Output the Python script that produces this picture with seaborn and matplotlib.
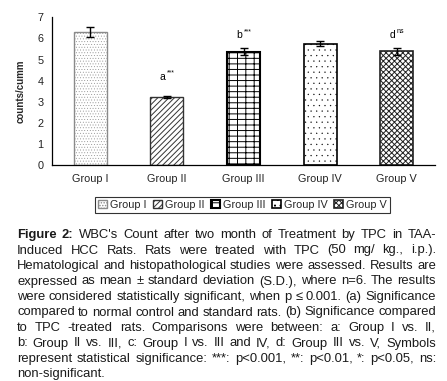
import matplotlib
matplotlib.use("Agg")
import matplotlib.pyplot as plt
import seaborn as sns
import pandas as pd
import numpy as np

groups = ["Group I", "Group II", "Group III", "Group IV", "Group V"]
means = [6.29, 3.22, 5.38, 5.74, 5.39]
sds = [0.24, 0.05, 0.17, 0.12, 0.17]
sig_letters = ["", "a", "b", "", "d"]
sig_marks = ["", "***", "***", "", "ns"]
y_ticks = [0, 1, 2, 3, 4, 5, 6, 7]
y_label = "counts/cumm"

caption_lines = [
    "Figure 2: WBC's Count after two month of Treatment by TPC in TAA-",
    "Induced HCC Rats. Rats were treated with TPC (50 mg/ kg., i.p.).",
    "Hematological and histopathological studies were assessed. Results are",
    "expressed as mean \u00b1 standard deviation (S.D.), where n=6. The results",
    "were considered statistically significant, when p \u2264 0.001. (a) Significance",
    "compared to normal control and standard rats. (b) Significance compared",
    "to TPC -treated rats. Comparisons were between: a: Group I vs. II,",
    "b: Group II vs. III, c: Group I vs. III and IV, d: Group III vs. V, Symbols",
    "represent statistical significance: ***: p<0.001, **: p<0.01, *: p<0.05, ns:",
    "non-significant.",
]

sns.set_style("white")
plt.rcParams["font.family"] = ["Liberation Sans", "DejaVu Sans"]
plt.rcParams["hatch.linewidth"] = 0.7

W, H, DPI = 447, 381, 100
fig = plt.figure(figsize=(W / DPI, H / DPI), dpi=DPI)
ax = fig.add_axes([52 / W, 1 - 165.3 / H, (435 - 52) / W, (165.3 - 17.3) / H])

df = pd.DataFrame({"group": groups, "value": means})
sns.barplot(data=df, x="group", y="value", ax=ax, width=0.43, errorbar=None,
            color="white", saturation=1)

hatches = ["......", "//////", "---||", "...", "xxxxxx"]
edges = ["#8a8a8a", "#333333", "black", "black", "#222222"]
lws = [1.0, 1.0, 1.5, 1.2, 1.2]
hlws = [0.3, 0.7, 0.7, 0.15, 0.7]
for p, h, ec, lw, hl in zip(ax.patches, hatches, edges, lws, hlws):
    p.set_hatch(h)
    p.set_edgecolor(ec)
    p.set_facecolor("white")
    p.set_linewidth(lw)
    if hasattr(p, "set_hatch_linewidth"):
        p.set_hatch_linewidth(hl)

x = np.arange(len(groups))
ax.errorbar(x, means, yerr=sds, fmt="none", ecolor="black", elinewidth=1.0,
            capsize=2.8, capthick=1.0, zorder=5)

ann_y = [0, 4.2, 6.15, 0, 6.18]
for i, (l, m) in enumerate(zip(sig_letters, sig_marks)):
    if not l:
        continue
    ax.annotate(l, (x[i], ann_y[i]), xytext=(-3, 0), textcoords="offset points",
                ha="center", va="center", fontsize=7.5, color="black")
    ax.annotate(m, (x[i], ann_y[i]), xytext=(0, 2.5), textcoords="offset points",
                ha="left", va="center", fontsize=5, color="black")

ax.set_xlim(-0.5, len(groups) - 0.5)
ax.set_ylim(0, 7)
ax.set_yticks(y_ticks)
ax.set_yticklabels([str(t) for t in y_ticks], fontsize=7.8)
ax.set_xticks(x)
ax.set_xticklabels(groups, fontsize=7.8)
ax.set_xticks(np.arange(len(groups) + 1) - 0.5, minor=True)
ax.tick_params(axis="x", which="major", length=0, pad=6, colors="#222222")
ax.tick_params(axis="x", which="minor", length=3, width=0.8, direction="out", colors="black")
ax.tick_params(axis="y", which="major", length=3, width=0.8, direction="out", pad=3, colors="#222222")
ax.set_xlabel("")
ax.set_ylabel(y_label, fontsize=7, fontweight="bold")
ax.yaxis.set_label_coords(-0.07, 0.5)
for s in ["top", "right"]:
    ax.spines[s].set_visible(False)
for s in ["left", "bottom"]:
    ax.spines[s].set_color("black")
    ax.spines[s].set_linewidth(0.9)

leg = fig.legend(handles=list(ax.patches), labels=groups, loc="center",
                 bbox_to_anchor=(242.5 / W, 1 - 205 / H), ncol=5, fontsize=7.8,
                 handlelength=0.8, handleheight=0.8, handletextpad=0.3,
                 columnspacing=0.6, borderpad=0.3, frameon=True, fancybox=False)
leg.get_frame().set_edgecolor("black")
leg.get_frame().set_linewidth(0.8)

# caption, justified
renderer = fig.canvas.get_renderer()
fs = 9.4
x0, x1 = 17 / W, 436 / W
color = "#1a1a1a"

def width_of(s, weight):
    t = fig.text(0, 0, s, fontsize=fs, fontweight=weight)
    w = t.get_window_extent(renderer).width / W
    t.remove()
    return w

for i, line in enumerate(caption_lines):
    yb = 1 - (234 + 4 + 15.5 * i) / H
    words = line.split(" ")
    weights = ["normal"] * len(words)
    if i == 0:
        weights[0] = "bold"
        weights[1] = "bold"
    if i == len(caption_lines) - 1:
        fig.text(x0, yb, line, fontsize=fs, ha="left", va="baseline", color=color)
        continue
    widths = [width_of(w_, wt) for w_, wt in zip(words, weights)]
    gap = (x1 - x0 - sum(widths)) / (len(words) - 1)
    xp = x0
    for w_, wt, wd in zip(words, weights, widths):
        fig.text(xp, yb, w_, fontsize=fs, fontweight=wt, ha="left", va="baseline", color=color)
        xp += wd + gap

fig.savefig("out.png", dpi=DPI)
